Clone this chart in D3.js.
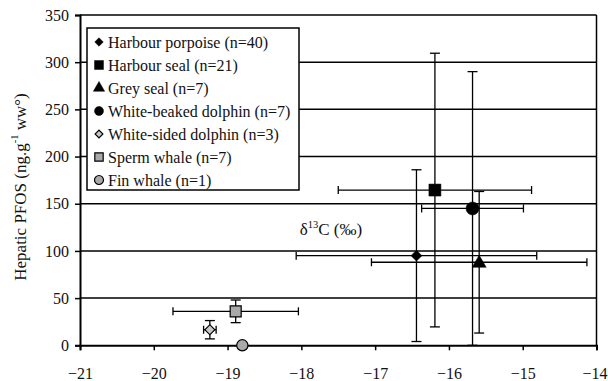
<!DOCTYPE html>
<html>
<head>
<meta charset="utf-8">
<script src="https://cdn.jsdelivr.net/npm/d3@7"></script>
<style>
html,body{margin:0;padding:0;background:#fff;}
svg, svg text{font-family:"Liberation Serif","Tinos","Times New Roman","DejaVu Serif",serif !important;}
</style>
</head>
<body>
<svg id="chart" width="608" height="381"></svg>
<script>
// ---- data ----
const species = ["Harbour porpoise","Harbour seal","Grey seal","White-beaked dolphin","White-sided dolphin","Sperm whale","Fin whale"];
const sampleN = [40,21,7,7,3,7,1];
const d13C    = [-16.44,-16.19,-15.59,-15.68,-19.24,-18.89,-18.80];
const d13CErr = [1.63,1.31,1.46,0.69,0.085,0.85,0];
const pfos    = [95,164.5,88,145,16.5,36,0];
const pfosErr = [91,145,75,145,9.7,12,0];
const xTicks = [-21,-20,-19,-18,-17,-16,-15,-14];
const yTicks = [0,50,100,150,200,250,300,350];

// ---- styles per species ----
const symType = ["diamond","square","triangle","circle","diamond","square","circle"];
const symFill = ["#000","#000","#000","#000","#c8c8c8","#a9a9a9","#a9a9a9"];
const symSize = [60,144,85,133,50,121,100];
const legSize = [36,80,55,64,30,70,64];
function symPath(t, s){
  if (t==="diamond") return d3.symbol(d3.symbolSquare, s)();
  const m = {square:d3.symbolSquare, triangle:d3.symbolTriangle, circle:d3.symbolCircle}[t];
  return d3.symbol(m, s)();
}
function symRot(t){ return t==="diamond" ? " rotate(45)" : ""; }

const svg = d3.select("#chart");
const x = d3.scaleLinear().domain([-21,-14]).range([80,596.5]);
const y = d3.scaleLinear().domain([0,350]).range([345.3,15]);

// gridlines
svg.append("g").selectAll("line").data(yTicks.filter(v=>v>0)).join("line")
  .attr("x1",x(-21)).attr("x2",x(-14)).attr("y1",d=>y(d)).attr("y2",d=>y(d))
  .attr("stroke","#000").attr("stroke-width",1.5);
// right border
svg.append("line").attr("x1",x(-14)).attr("x2",x(-14)).attr("y1",y(0)).attr("y2",y(350))
  .attr("stroke","#000").attr("stroke-width",1.5);

// axes
const xAxis = svg.append("g").attr("transform",`translate(0,${y(0)})`)
  .call(d3.axisBottom(x).tickValues(xTicks).tickSize(5).tickPadding(17).tickFormat(d3.format("d")));
const yAxis = svg.append("g").attr("transform",`translate(${x(-21)},0)`)
  .call(d3.axisLeft(y).tickValues(yTicks).tickSize(5).tickPadding(6));
[xAxis,yAxis].forEach(a=>{
  a.attr("font-family",null);
  a.select(".domain").attr("stroke","#000").attr("stroke-width",2);
  a.selectAll(".tick line").attr("stroke","#000").attr("stroke-width",1.5);
  a.selectAll("text").attr("font-size",16).attr("fill","#111");
});
xAxis.selectAll(".tick").filter(d=>d===-14).select("text").attr("dx",-2);

// error bars
const idx = d3.range(species.length);
const eb = svg.append("g").attr("stroke","#000").attr("stroke-width",1.3).attr("fill","none");
idx.forEach(i=>{
  if (pfosErr[i] > 0) {
    const cx = x(d13C[i]), t = y(pfos[i]+pfosErr[i]), b = y(Math.max(0,pfos[i]-pfosErr[i]));
    eb.append("line").attr("x1",cx).attr("x2",cx).attr("y1",t).attr("y2",b);
    eb.append("line").attr("x1",cx-5).attr("x2",cx+5).attr("y1",t).attr("y2",t);
    eb.append("line").attr("x1",cx-5).attr("x2",cx+5).attr("y1",b).attr("y2",b);
  }
  if (d13CErr[i] > 0) {
    const cy = y(pfos[i]), l = x(d13C[i]-d13CErr[i]), r = x(d13C[i]+d13CErr[i]);
    eb.append("line").attr("x1",l).attr("x2",r).attr("y1",cy).attr("y2",cy);
    eb.append("line").attr("x1",l).attr("x2",l).attr("y1",cy-4).attr("y2",cy+4);
    eb.append("line").attr("x1",r).attr("x2",r).attr("y1",cy-4).attr("y2",cy+4);
  }
});

// markers
svg.append("g").selectAll("path").data(idx).join("path")
  .attr("transform",i=>`translate(${x(d13C[i])},${y(pfos[i]) + (symType[i]==="triangle"?1:0)})${symRot(symType[i])}`)
  .attr("d",i=>symPath(symType[i],symSize[i]))
  .attr("fill",i=>symFill[i]).attr("stroke","#000").attr("stroke-width",i=>i>=4?1.2:0.5);

// in-plot axis label
const dl = svg.append("text").attr("x",x(-17.6)).attr("y",y(117)).attr("text-anchor","middle")
  .attr("font-size",17).attr("fill","#111");
dl.append("tspan").text("δ");
dl.append("tspan").attr("font-size",10.5).attr("dy",-7).text("13");
dl.append("tspan").attr("dy",7).text("C (‰)");

// y-axis title
const yl = svg.append("text").attr("transform","translate(26,187) rotate(-90)").attr("text-anchor","middle")
  .attr("font-size",17).attr("fill","#111");
yl.append("tspan").text("Hepatic PFOS (ng.g");
yl.append("tspan").attr("font-size",10.5).attr("dy",-8).text("-1");
yl.append("tspan").attr("dy",8).text(" ww°)");

// legend
const leg = svg.append("g");
leg.append("rect").attr("x",87).attr("y",28).attr("width",212).attr("height",162)
  .attr("fill","#fff").attr("stroke","#000").attr("stroke-width",1.5);
const items = leg.selectAll("g.item").data(idx).join("g").attr("class","item")
  .attr("transform",i=>`translate(0,${42 + i*23})`);
items.append("path").attr("transform",i=>`translate(99,0)${symRot(symType[i])}`)
  .attr("d",i=>symPath(symType[i],legSize[i]))
  .attr("fill",i=>symFill[i]).attr("stroke","#000").attr("stroke-width",i=>i>=4?1.2:0.5);
items.append("text").attr("x",108).attr("y",5.5).attr("font-size",16).attr("fill","#111")
  .text(i=>`${species[i]} (n=${sampleN[i]})`);
</script>
</body>
</html>
